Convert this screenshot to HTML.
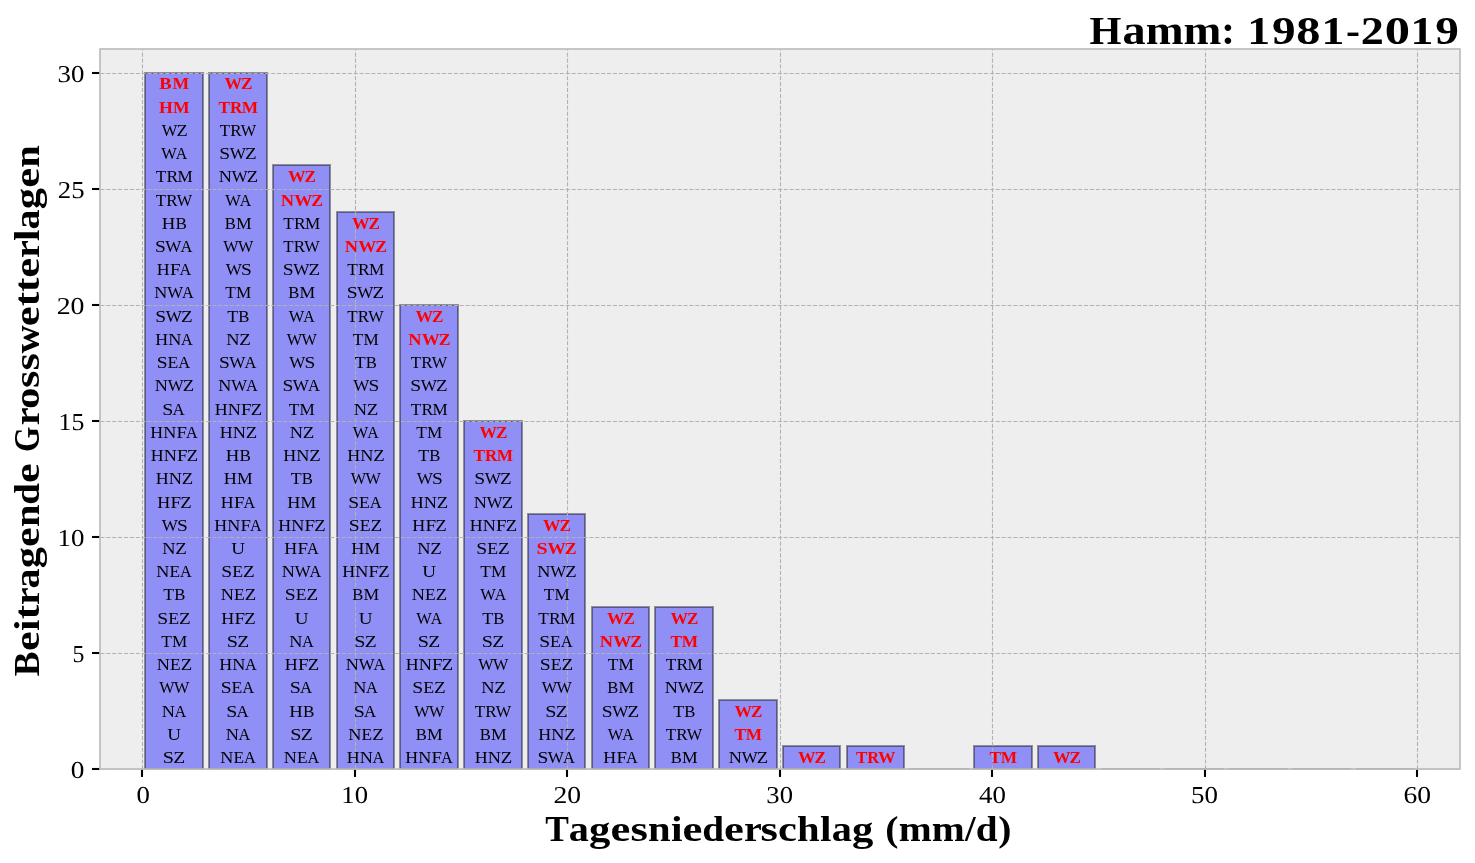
<!DOCTYPE html>
<html lang="de"><head><meta charset="utf-8"><title>Hamm: 1981-2019</title>
<style>
html,body{margin:0;padding:0;background:#fff;}
body{width:1475px;height:863px;overflow:hidden;}
svg{display:block;will-change:transform;}
text{font-family:"Liberation Serif",serif;font-kerning:none;font-variant-ligatures:none;}
.lb{font-size:16.8px;fill:#000;}
.lr{font-size:16.6px;fill:#ff0000;font-weight:bold;}
.tk{font-size:24.3px;fill:#000;}
.ax{font-weight:bold;fill:#000;}
</style></head><body>
<svg width="1475" height="863" viewBox="0 0 1475 863">
<rect x="0" y="0" width="1475" height="863" fill="#ffffff"/>
<rect x="99.70" y="49.30" width="1360.00" height="720.15" fill="#eeeeee"/>
<defs><clipPath id="axclip"><rect x="99.70" y="49.30" width="1360.00" height="720.15"/></clipPath></defs>
<g clip-path="url(#axclip)" fill="rgba(0,0,255,0.4)" stroke="rgba(0,0,0,0.4)" stroke-width="2" stroke-linejoin="miter">
<rect x="145" y="73" width="58" height="696"/>
<rect x="209" y="73" width="58" height="696"/>
<rect x="273" y="165" width="57" height="604"/>
<rect x="337" y="212" width="57" height="557"/>
<rect x="400" y="305" width="58" height="464"/>
<rect x="464" y="421" width="58" height="348"/>
<rect x="528" y="514" width="57" height="255"/>
<rect x="592" y="607" width="57" height="162"/>
<rect x="655" y="607" width="58" height="162"/>
<rect x="719" y="700" width="58" height="69"/>
<rect x="783" y="746" width="57" height="23"/>
<rect x="847" y="746" width="57" height="23"/>
<line x1="909" y1="769" x2="969" y2="769"/>
<rect x="974" y="746" width="58" height="23"/>
<rect x="1038" y="746" width="57" height="23"/>
<line x1="1101" y1="769" x2="1160" y2="769"/>
<line x1="1164" y1="769" x2="1224" y2="769"/>
<line x1="1228" y1="769" x2="1288" y2="769"/>
<line x1="1292" y1="769" x2="1351" y2="769"/>
<line x1="1356" y1="769" x2="1415" y2="769"/>
</g>
<g clip-path="url(#axclip)" stroke="#b2b2b2" stroke-width="1.11" stroke-dasharray="4.11 1.78" fill="none">
<line x1="142.5" y1="769.45" x2="142.5" y2="49.30"/>
<line x1="355.5" y1="769.45" x2="355.5" y2="49.30"/>
<line x1="567.5" y1="769.45" x2="567.5" y2="49.30"/>
<line x1="780.5" y1="769.45" x2="780.5" y2="49.30"/>
<line x1="992.5" y1="769.45" x2="992.5" y2="49.30"/>
<line x1="1205.5" y1="769.45" x2="1205.5" y2="49.30"/>
<line x1="1417.5" y1="769.45" x2="1417.5" y2="49.30"/>
<line x1="100.40" y1="769.5" x2="1459.70" y2="769.5"/>
<line x1="100.40" y1="653.5" x2="1459.70" y2="653.5"/>
<line x1="100.40" y1="537.5" x2="1459.70" y2="537.5"/>
<line x1="100.40" y1="421.5" x2="1459.70" y2="421.5"/>
<line x1="100.40" y1="305.5" x2="1459.70" y2="305.5"/>
<line x1="100.40" y1="189.5" x2="1459.70" y2="189.5"/>
<line x1="100.40" y1="73.5" x2="1459.70" y2="73.5"/>
</g>
<g stroke="#000000" stroke-width="2.08" fill="none">
<line x1="142" y1="769.45" x2="142" y2="776.95"/>
<line x1="355" y1="769.45" x2="355" y2="776.95"/>
<line x1="567" y1="769.45" x2="567" y2="776.95"/>
<line x1="780" y1="769.45" x2="780" y2="776.95"/>
<line x1="992" y1="769.45" x2="992" y2="776.95"/>
<line x1="1205" y1="769.45" x2="1205" y2="776.95"/>
<line x1="1417" y1="769.45" x2="1417" y2="776.95"/>
<line x1="99.70" y1="769" x2="92.00" y2="769"/>
<line x1="99.70" y1="653" x2="92.00" y2="653"/>
<line x1="99.70" y1="537" x2="92.00" y2="537"/>
<line x1="99.70" y1="421" x2="92.00" y2="421"/>
<line x1="99.70" y1="305" x2="92.00" y2="305"/>
<line x1="99.70" y1="189" x2="92.00" y2="189"/>
<line x1="99.70" y1="73" x2="92.00" y2="73"/>
</g>
<rect x="100" y="49" width="1360" height="720" fill="none" stroke="#bcbcbc" stroke-width="1.67"/>
<g>
<text class="lr" y="89"><tspan x="159.39" textLength="12.39" lengthAdjust="spacingAndGlyphs">B</tspan><tspan x="172.56" textLength="16.65" lengthAdjust="spacingAndGlyphs">M</tspan></text>
<text class="lr" y="113"><tspan x="158.90" textLength="13.86" lengthAdjust="spacingAndGlyphs">H</tspan><tspan x="173.07" textLength="16.64" lengthAdjust="spacingAndGlyphs">M</tspan></text>
<text class="lb" y="136"><tspan x="161.68" textLength="15.67" lengthAdjust="spacingAndGlyphs">W</tspan><tspan x="176.47" textLength="11.24" lengthAdjust="spacingAndGlyphs">Z</tspan></text>
<text class="lb" y="159"><tspan x="161.18" textLength="15.57" lengthAdjust="spacingAndGlyphs">W</tspan><tspan x="175.82" textLength="11.50" lengthAdjust="spacingAndGlyphs">A</tspan></text>
<text class="lb" y="182"><tspan x="155.89" textLength="10.57" lengthAdjust="spacingAndGlyphs">T</tspan><tspan x="166.47" textLength="11.64" lengthAdjust="spacingAndGlyphs">R</tspan><tspan x="177.49" textLength="15.21" lengthAdjust="spacingAndGlyphs">M</tspan></text>
<text class="lb" y="206"><tspan x="155.89" textLength="10.34" lengthAdjust="spacingAndGlyphs">T</tspan><tspan x="166.25" textLength="11.39" lengthAdjust="spacingAndGlyphs">R</tspan><tspan x="176.82" textLength="15.42" lengthAdjust="spacingAndGlyphs">W</tspan></text>
<text class="lb" y="229"><tspan x="161.66" textLength="13.53" lengthAdjust="spacingAndGlyphs">H</tspan><tspan x="175.60" textLength="11.44" lengthAdjust="spacingAndGlyphs">B</tspan></text>
<text class="lb" y="252"><tspan x="154.90" textLength="10.83" lengthAdjust="spacingAndGlyphs">S</tspan><tspan x="165.25" textLength="16.13" lengthAdjust="spacingAndGlyphs">W</tspan><tspan x="180.41" textLength="11.91" lengthAdjust="spacingAndGlyphs">A</tspan></text>
<text class="lb" y="275"><tspan x="156.69" textLength="12.90" lengthAdjust="spacingAndGlyphs">H</tspan><tspan x="169.91" textLength="10.52" lengthAdjust="spacingAndGlyphs">F</tspan><tspan x="179.54" textLength="11.77" lengthAdjust="spacingAndGlyphs">A</tspan></text>
<text class="lb" y="298"><tspan x="154.18" textLength="13.06" lengthAdjust="spacingAndGlyphs">N</tspan><tspan x="167.19" textLength="15.86" lengthAdjust="spacingAndGlyphs">W</tspan><tspan x="182.10" textLength="11.72" lengthAdjust="spacingAndGlyphs">A</tspan></text>
<text class="lb" y="322"><tspan x="155.39" textLength="10.89" lengthAdjust="spacingAndGlyphs">S</tspan><tspan x="165.80" textLength="16.22" lengthAdjust="spacingAndGlyphs">W</tspan><tspan x="181.11" textLength="11.64" lengthAdjust="spacingAndGlyphs">Z</tspan></text>
<text class="lb" y="345"><tspan x="155.19" textLength="12.89" lengthAdjust="spacingAndGlyphs">H</tspan><tspan x="168.31" textLength="13.11" lengthAdjust="spacingAndGlyphs">N</tspan><tspan x="181.06" textLength="11.76" lengthAdjust="spacingAndGlyphs">A</tspan></text>
<text class="lb" y="368"><tspan x="156.89" textLength="10.87" lengthAdjust="spacingAndGlyphs">S</tspan><tspan x="167.59" textLength="10.80" lengthAdjust="spacingAndGlyphs">E</tspan><tspan x="178.36" textLength="11.96" lengthAdjust="spacingAndGlyphs">A</tspan></text>
<text class="lb" y="391"><tspan x="154.68" textLength="13.13" lengthAdjust="spacingAndGlyphs">N</tspan><tspan x="167.75" textLength="15.94" lengthAdjust="spacingAndGlyphs">W</tspan><tspan x="182.79" textLength="11.43" lengthAdjust="spacingAndGlyphs">Z</tspan></text>
<text class="lb" y="415"><tspan x="162.37" textLength="11.08" lengthAdjust="spacingAndGlyphs">S</tspan><tspan x="172.64" textLength="12.18" lengthAdjust="spacingAndGlyphs">A</tspan></text>
<text class="lb" y="438"><tspan x="150.20" textLength="12.83" lengthAdjust="spacingAndGlyphs">H</tspan><tspan x="163.27" textLength="13.05" lengthAdjust="spacingAndGlyphs">N</tspan><tspan x="176.53" textLength="10.47" lengthAdjust="spacingAndGlyphs">F</tspan><tspan x="186.10" textLength="11.71" lengthAdjust="spacingAndGlyphs">A</tspan></text>
<text class="lb" y="461"><tspan x="150.69" textLength="12.89" lengthAdjust="spacingAndGlyphs">H</tspan><tspan x="163.82" textLength="13.11" lengthAdjust="spacingAndGlyphs">N</tspan><tspan x="177.13" textLength="10.51" lengthAdjust="spacingAndGlyphs">F</tspan><tspan x="186.80" textLength="11.42" lengthAdjust="spacingAndGlyphs">Z</tspan></text>
<text class="lb" y="484"><tspan x="155.68" textLength="12.95" lengthAdjust="spacingAndGlyphs">H</tspan><tspan x="168.88" textLength="13.18" lengthAdjust="spacingAndGlyphs">N</tspan><tspan x="181.75" textLength="11.48" lengthAdjust="spacingAndGlyphs">Z</tspan></text>
<text class="lb" y="508"><tspan x="157.18" textLength="12.98" lengthAdjust="spacingAndGlyphs">H</tspan><tspan x="170.48" textLength="10.59" lengthAdjust="spacingAndGlyphs">F</tspan><tspan x="180.23" textLength="11.50" lengthAdjust="spacingAndGlyphs">Z</tspan></text>
<text class="lb" y="531"><tspan x="161.68" textLength="16.10" lengthAdjust="spacingAndGlyphs">W</tspan><tspan x="177.09" textLength="10.81" lengthAdjust="spacingAndGlyphs">S</tspan></text>
<text class="lb" y="554"><tspan x="162.17" textLength="13.29" lengthAdjust="spacingAndGlyphs">N</tspan><tspan x="175.15" textLength="11.58" lengthAdjust="spacingAndGlyphs">Z</tspan></text>
<text class="lb" y="577"><tspan x="156.18" textLength="13.09" lengthAdjust="spacingAndGlyphs">N</tspan><tspan x="169.51" textLength="10.60" lengthAdjust="spacingAndGlyphs">E</tspan><tspan x="180.08" textLength="11.74" lengthAdjust="spacingAndGlyphs">A</tspan></text>
<text class="lb" y="600"><tspan x="163.38" textLength="10.93" lengthAdjust="spacingAndGlyphs">T</tspan><tspan x="174.37" textLength="11.15" lengthAdjust="spacingAndGlyphs">B</tspan></text>
<text class="lb" y="624"><tspan x="157.38" textLength="10.94" lengthAdjust="spacingAndGlyphs">S</tspan><tspan x="168.15" textLength="10.87" lengthAdjust="spacingAndGlyphs">E</tspan><tspan x="179.05" textLength="11.69" lengthAdjust="spacingAndGlyphs">Z</tspan></text>
<text class="lb" y="647"><tspan x="161.39" textLength="10.61" lengthAdjust="spacingAndGlyphs">T</tspan><tspan x="171.94" textLength="15.27" lengthAdjust="spacingAndGlyphs">M</tspan></text>
<text class="lb" y="670"><tspan x="156.68" textLength="13.16" lengthAdjust="spacingAndGlyphs">N</tspan><tspan x="170.08" textLength="10.66" lengthAdjust="spacingAndGlyphs">E</tspan><tspan x="180.76" textLength="11.46" lengthAdjust="spacingAndGlyphs">Z</tspan></text>
<text class="lb" y="693"><tspan x="159.18" textLength="15.33" lengthAdjust="spacingAndGlyphs">W</tspan><tspan x="173.90" textLength="15.33" lengthAdjust="spacingAndGlyphs">W</tspan></text>
<text class="lb" y="717"><tspan x="161.67" textLength="13.18" lengthAdjust="spacingAndGlyphs">N</tspan><tspan x="174.50" textLength="11.82" lengthAdjust="spacingAndGlyphs">A</tspan></text>
<text class="lb" y="740"><tspan x="167.30" textLength="13.80" lengthAdjust="spacingAndGlyphs">U</tspan></text>
<text class="lb" y="763"><tspan x="162.85" textLength="11.21" lengthAdjust="spacingAndGlyphs">S</tspan><tspan x="173.30" textLength="11.97" lengthAdjust="spacingAndGlyphs">Z</tspan></text>
<text class="lr" y="89"><tspan x="224.45" textLength="17.53" lengthAdjust="spacingAndGlyphs">W</tspan><tspan x="241.11" textLength="11.46" lengthAdjust="spacingAndGlyphs">Z</tspan></text>
<text class="lr" y="113"><tspan x="218.43" textLength="11.57" lengthAdjust="spacingAndGlyphs">T</tspan><tspan x="229.95" textLength="12.20" lengthAdjust="spacingAndGlyphs">R</tspan><tspan x="241.86" textLength="16.34" lengthAdjust="spacingAndGlyphs">M</tspan></text>
<text class="lb" y="136"><tspan x="219.89" textLength="10.34" lengthAdjust="spacingAndGlyphs">T</tspan><tspan x="230.25" textLength="11.39" lengthAdjust="spacingAndGlyphs">R</tspan><tspan x="240.82" textLength="15.42" lengthAdjust="spacingAndGlyphs">W</tspan></text>
<text class="lb" y="159"><tspan x="219.39" textLength="10.89" lengthAdjust="spacingAndGlyphs">S</tspan><tspan x="229.80" textLength="16.22" lengthAdjust="spacingAndGlyphs">W</tspan><tspan x="245.11" textLength="11.64" lengthAdjust="spacingAndGlyphs">Z</tspan></text>
<text class="lb" y="182"><tspan x="218.68" textLength="13.13" lengthAdjust="spacingAndGlyphs">N</tspan><tspan x="231.75" textLength="15.94" lengthAdjust="spacingAndGlyphs">W</tspan><tspan x="246.79" textLength="11.43" lengthAdjust="spacingAndGlyphs">Z</tspan></text>
<text class="lb" y="206"><tspan x="225.18" textLength="15.57" lengthAdjust="spacingAndGlyphs">W</tspan><tspan x="239.82" textLength="11.50" lengthAdjust="spacingAndGlyphs">A</tspan></text>
<text class="lb" y="229"><tspan x="224.72" textLength="11.11" lengthAdjust="spacingAndGlyphs">B</tspan><tspan x="236.03" textLength="15.68" lengthAdjust="spacingAndGlyphs">M</tspan></text>
<text class="lb" y="252"><tspan x="223.18" textLength="15.33" lengthAdjust="spacingAndGlyphs">W</tspan><tspan x="237.90" textLength="15.33" lengthAdjust="spacingAndGlyphs">W</tspan></text>
<text class="lb" y="275"><tspan x="225.68" textLength="16.10" lengthAdjust="spacingAndGlyphs">W</tspan><tspan x="241.09" textLength="10.81" lengthAdjust="spacingAndGlyphs">S</tspan></text>
<text class="lb" y="298"><tspan x="225.39" textLength="10.61" lengthAdjust="spacingAndGlyphs">T</tspan><tspan x="235.94" textLength="15.27" lengthAdjust="spacingAndGlyphs">M</tspan></text>
<text class="lb" y="322"><tspan x="227.38" textLength="10.93" lengthAdjust="spacingAndGlyphs">T</tspan><tspan x="238.37" textLength="11.15" lengthAdjust="spacingAndGlyphs">B</tspan></text>
<text class="lb" y="345"><tspan x="226.17" textLength="13.29" lengthAdjust="spacingAndGlyphs">N</tspan><tspan x="239.15" textLength="11.58" lengthAdjust="spacingAndGlyphs">Z</tspan></text>
<text class="lb" y="368"><tspan x="218.90" textLength="10.83" lengthAdjust="spacingAndGlyphs">S</tspan><tspan x="229.25" textLength="16.13" lengthAdjust="spacingAndGlyphs">W</tspan><tspan x="244.41" textLength="11.91" lengthAdjust="spacingAndGlyphs">A</tspan></text>
<text class="lb" y="391"><tspan x="218.18" textLength="13.06" lengthAdjust="spacingAndGlyphs">N</tspan><tspan x="231.19" textLength="15.86" lengthAdjust="spacingAndGlyphs">W</tspan><tspan x="246.10" textLength="11.72" lengthAdjust="spacingAndGlyphs">A</tspan></text>
<text class="lb" y="415"><tspan x="214.69" textLength="12.89" lengthAdjust="spacingAndGlyphs">H</tspan><tspan x="227.82" textLength="13.11" lengthAdjust="spacingAndGlyphs">N</tspan><tspan x="241.13" textLength="10.51" lengthAdjust="spacingAndGlyphs">F</tspan><tspan x="250.80" textLength="11.42" lengthAdjust="spacingAndGlyphs">Z</tspan></text>
<text class="lb" y="438"><tspan x="219.68" textLength="12.95" lengthAdjust="spacingAndGlyphs">H</tspan><tspan x="232.88" textLength="13.18" lengthAdjust="spacingAndGlyphs">N</tspan><tspan x="245.75" textLength="11.48" lengthAdjust="spacingAndGlyphs">Z</tspan></text>
<text class="lb" y="461"><tspan x="225.66" textLength="13.53" lengthAdjust="spacingAndGlyphs">H</tspan><tspan x="239.60" textLength="11.44" lengthAdjust="spacingAndGlyphs">B</tspan></text>
<text class="lb" y="484"><tspan x="223.68" textLength="13.11" lengthAdjust="spacingAndGlyphs">H</tspan><tspan x="237.08" textLength="15.64" lengthAdjust="spacingAndGlyphs">M</tspan></text>
<text class="lb" y="508"><tspan x="220.69" textLength="12.90" lengthAdjust="spacingAndGlyphs">H</tspan><tspan x="233.91" textLength="10.52" lengthAdjust="spacingAndGlyphs">F</tspan><tspan x="243.54" textLength="11.77" lengthAdjust="spacingAndGlyphs">A</tspan></text>
<text class="lb" y="531"><tspan x="214.20" textLength="12.83" lengthAdjust="spacingAndGlyphs">H</tspan><tspan x="227.27" textLength="13.05" lengthAdjust="spacingAndGlyphs">N</tspan><tspan x="240.53" textLength="10.47" lengthAdjust="spacingAndGlyphs">F</tspan><tspan x="250.10" textLength="11.71" lengthAdjust="spacingAndGlyphs">A</tspan></text>
<text class="lb" y="554"><tspan x="231.30" textLength="13.80" lengthAdjust="spacingAndGlyphs">U</tspan></text>
<text class="lb" y="577"><tspan x="221.38" textLength="10.94" lengthAdjust="spacingAndGlyphs">S</tspan><tspan x="232.15" textLength="10.87" lengthAdjust="spacingAndGlyphs">E</tspan><tspan x="243.05" textLength="11.69" lengthAdjust="spacingAndGlyphs">Z</tspan></text>
<text class="lb" y="600"><tspan x="220.68" textLength="13.16" lengthAdjust="spacingAndGlyphs">N</tspan><tspan x="234.08" textLength="10.66" lengthAdjust="spacingAndGlyphs">E</tspan><tspan x="244.76" textLength="11.46" lengthAdjust="spacingAndGlyphs">Z</tspan></text>
<text class="lb" y="624"><tspan x="221.18" textLength="12.98" lengthAdjust="spacingAndGlyphs">H</tspan><tspan x="234.48" textLength="10.59" lengthAdjust="spacingAndGlyphs">F</tspan><tspan x="244.23" textLength="11.50" lengthAdjust="spacingAndGlyphs">Z</tspan></text>
<text class="lb" y="647"><tspan x="226.85" textLength="11.21" lengthAdjust="spacingAndGlyphs">S</tspan><tspan x="237.30" textLength="11.97" lengthAdjust="spacingAndGlyphs">Z</tspan></text>
<text class="lb" y="670"><tspan x="219.19" textLength="12.89" lengthAdjust="spacingAndGlyphs">H</tspan><tspan x="232.31" textLength="13.11" lengthAdjust="spacingAndGlyphs">N</tspan><tspan x="245.06" textLength="11.76" lengthAdjust="spacingAndGlyphs">A</tspan></text>
<text class="lb" y="693"><tspan x="220.89" textLength="10.87" lengthAdjust="spacingAndGlyphs">S</tspan><tspan x="231.59" textLength="10.80" lengthAdjust="spacingAndGlyphs">E</tspan><tspan x="242.36" textLength="11.96" lengthAdjust="spacingAndGlyphs">A</tspan></text>
<text class="lb" y="717"><tspan x="226.37" textLength="11.08" lengthAdjust="spacingAndGlyphs">S</tspan><tspan x="236.64" textLength="12.18" lengthAdjust="spacingAndGlyphs">A</tspan></text>
<text class="lb" y="740"><tspan x="225.67" textLength="13.18" lengthAdjust="spacingAndGlyphs">N</tspan><tspan x="238.50" textLength="11.82" lengthAdjust="spacingAndGlyphs">A</tspan></text>
<text class="lb" y="763"><tspan x="220.18" textLength="13.09" lengthAdjust="spacingAndGlyphs">N</tspan><tspan x="233.51" textLength="10.60" lengthAdjust="spacingAndGlyphs">E</tspan><tspan x="244.08" textLength="11.74" lengthAdjust="spacingAndGlyphs">A</tspan></text>
<text class="lr" y="182"><tspan x="287.95" textLength="17.53" lengthAdjust="spacingAndGlyphs">W</tspan><tspan x="304.61" textLength="11.46" lengthAdjust="spacingAndGlyphs">Z</tspan></text>
<text class="lr" y="206"><tspan x="280.85" textLength="13.30" lengthAdjust="spacingAndGlyphs">N</tspan><tspan x="294.16" textLength="18.04" lengthAdjust="spacingAndGlyphs">W</tspan><tspan x="311.30" textLength="11.80" lengthAdjust="spacingAndGlyphs">Z</tspan></text>
<text class="lb" y="229"><tspan x="283.39" textLength="10.57" lengthAdjust="spacingAndGlyphs">T</tspan><tspan x="293.97" textLength="11.64" lengthAdjust="spacingAndGlyphs">R</tspan><tspan x="304.99" textLength="15.21" lengthAdjust="spacingAndGlyphs">M</tspan></text>
<text class="lb" y="252"><tspan x="283.39" textLength="10.34" lengthAdjust="spacingAndGlyphs">T</tspan><tspan x="293.75" textLength="11.39" lengthAdjust="spacingAndGlyphs">R</tspan><tspan x="304.32" textLength="15.42" lengthAdjust="spacingAndGlyphs">W</tspan></text>
<text class="lb" y="275"><tspan x="282.89" textLength="10.89" lengthAdjust="spacingAndGlyphs">S</tspan><tspan x="293.30" textLength="16.22" lengthAdjust="spacingAndGlyphs">W</tspan><tspan x="308.61" textLength="11.64" lengthAdjust="spacingAndGlyphs">Z</tspan></text>
<text class="lb" y="298"><tspan x="288.22" textLength="11.11" lengthAdjust="spacingAndGlyphs">B</tspan><tspan x="299.53" textLength="15.68" lengthAdjust="spacingAndGlyphs">M</tspan></text>
<text class="lb" y="322"><tspan x="288.68" textLength="15.57" lengthAdjust="spacingAndGlyphs">W</tspan><tspan x="303.32" textLength="11.50" lengthAdjust="spacingAndGlyphs">A</tspan></text>
<text class="lb" y="345"><tspan x="286.68" textLength="15.33" lengthAdjust="spacingAndGlyphs">W</tspan><tspan x="301.40" textLength="15.33" lengthAdjust="spacingAndGlyphs">W</tspan></text>
<text class="lb" y="368"><tspan x="289.18" textLength="16.10" lengthAdjust="spacingAndGlyphs">W</tspan><tspan x="304.59" textLength="10.81" lengthAdjust="spacingAndGlyphs">S</tspan></text>
<text class="lb" y="391"><tspan x="282.40" textLength="10.83" lengthAdjust="spacingAndGlyphs">S</tspan><tspan x="292.75" textLength="16.13" lengthAdjust="spacingAndGlyphs">W</tspan><tspan x="307.91" textLength="11.91" lengthAdjust="spacingAndGlyphs">A</tspan></text>
<text class="lb" y="415"><tspan x="288.89" textLength="10.61" lengthAdjust="spacingAndGlyphs">T</tspan><tspan x="299.44" textLength="15.27" lengthAdjust="spacingAndGlyphs">M</tspan></text>
<text class="lb" y="438"><tspan x="289.67" textLength="13.29" lengthAdjust="spacingAndGlyphs">N</tspan><tspan x="302.65" textLength="11.58" lengthAdjust="spacingAndGlyphs">Z</tspan></text>
<text class="lb" y="461"><tspan x="283.18" textLength="12.95" lengthAdjust="spacingAndGlyphs">H</tspan><tspan x="296.38" textLength="13.18" lengthAdjust="spacingAndGlyphs">N</tspan><tspan x="309.25" textLength="11.48" lengthAdjust="spacingAndGlyphs">Z</tspan></text>
<text class="lb" y="484"><tspan x="290.88" textLength="10.93" lengthAdjust="spacingAndGlyphs">T</tspan><tspan x="301.87" textLength="11.15" lengthAdjust="spacingAndGlyphs">B</tspan></text>
<text class="lb" y="508"><tspan x="287.18" textLength="13.11" lengthAdjust="spacingAndGlyphs">H</tspan><tspan x="300.58" textLength="15.64" lengthAdjust="spacingAndGlyphs">M</tspan></text>
<text class="lb" y="531"><tspan x="278.19" textLength="12.89" lengthAdjust="spacingAndGlyphs">H</tspan><tspan x="291.32" textLength="13.11" lengthAdjust="spacingAndGlyphs">N</tspan><tspan x="304.63" textLength="10.51" lengthAdjust="spacingAndGlyphs">F</tspan><tspan x="314.30" textLength="11.42" lengthAdjust="spacingAndGlyphs">Z</tspan></text>
<text class="lb" y="554"><tspan x="284.19" textLength="12.90" lengthAdjust="spacingAndGlyphs">H</tspan><tspan x="297.41" textLength="10.52" lengthAdjust="spacingAndGlyphs">F</tspan><tspan x="307.04" textLength="11.77" lengthAdjust="spacingAndGlyphs">A</tspan></text>
<text class="lb" y="577"><tspan x="281.68" textLength="13.06" lengthAdjust="spacingAndGlyphs">N</tspan><tspan x="294.69" textLength="15.86" lengthAdjust="spacingAndGlyphs">W</tspan><tspan x="309.60" textLength="11.72" lengthAdjust="spacingAndGlyphs">A</tspan></text>
<text class="lb" y="600"><tspan x="284.88" textLength="10.94" lengthAdjust="spacingAndGlyphs">S</tspan><tspan x="295.65" textLength="10.87" lengthAdjust="spacingAndGlyphs">E</tspan><tspan x="306.55" textLength="11.69" lengthAdjust="spacingAndGlyphs">Z</tspan></text>
<text class="lb" y="624"><tspan x="294.80" textLength="13.80" lengthAdjust="spacingAndGlyphs">U</tspan></text>
<text class="lb" y="647"><tspan x="289.17" textLength="13.18" lengthAdjust="spacingAndGlyphs">N</tspan><tspan x="302.00" textLength="11.82" lengthAdjust="spacingAndGlyphs">A</tspan></text>
<text class="lb" y="670"><tspan x="284.68" textLength="12.98" lengthAdjust="spacingAndGlyphs">H</tspan><tspan x="297.98" textLength="10.59" lengthAdjust="spacingAndGlyphs">F</tspan><tspan x="307.73" textLength="11.50" lengthAdjust="spacingAndGlyphs">Z</tspan></text>
<text class="lb" y="693"><tspan x="289.87" textLength="11.08" lengthAdjust="spacingAndGlyphs">S</tspan><tspan x="300.14" textLength="12.18" lengthAdjust="spacingAndGlyphs">A</tspan></text>
<text class="lb" y="717"><tspan x="289.16" textLength="13.53" lengthAdjust="spacingAndGlyphs">H</tspan><tspan x="303.10" textLength="11.44" lengthAdjust="spacingAndGlyphs">B</tspan></text>
<text class="lb" y="740"><tspan x="290.35" textLength="11.21" lengthAdjust="spacingAndGlyphs">S</tspan><tspan x="300.80" textLength="11.97" lengthAdjust="spacingAndGlyphs">Z</tspan></text>
<text class="lb" y="763"><tspan x="283.68" textLength="13.09" lengthAdjust="spacingAndGlyphs">N</tspan><tspan x="297.01" textLength="10.60" lengthAdjust="spacingAndGlyphs">E</tspan><tspan x="307.58" textLength="11.74" lengthAdjust="spacingAndGlyphs">A</tspan></text>
<text class="lr" y="229"><tspan x="351.95" textLength="17.53" lengthAdjust="spacingAndGlyphs">W</tspan><tspan x="368.61" textLength="11.46" lengthAdjust="spacingAndGlyphs">Z</tspan></text>
<text class="lr" y="252"><tspan x="344.85" textLength="13.30" lengthAdjust="spacingAndGlyphs">N</tspan><tspan x="358.16" textLength="18.04" lengthAdjust="spacingAndGlyphs">W</tspan><tspan x="375.30" textLength="11.80" lengthAdjust="spacingAndGlyphs">Z</tspan></text>
<text class="lb" y="275"><tspan x="347.39" textLength="10.57" lengthAdjust="spacingAndGlyphs">T</tspan><tspan x="357.97" textLength="11.64" lengthAdjust="spacingAndGlyphs">R</tspan><tspan x="368.99" textLength="15.21" lengthAdjust="spacingAndGlyphs">M</tspan></text>
<text class="lb" y="298"><tspan x="346.89" textLength="10.89" lengthAdjust="spacingAndGlyphs">S</tspan><tspan x="357.30" textLength="16.22" lengthAdjust="spacingAndGlyphs">W</tspan><tspan x="372.61" textLength="11.64" lengthAdjust="spacingAndGlyphs">Z</tspan></text>
<text class="lb" y="322"><tspan x="347.39" textLength="10.34" lengthAdjust="spacingAndGlyphs">T</tspan><tspan x="357.75" textLength="11.39" lengthAdjust="spacingAndGlyphs">R</tspan><tspan x="368.32" textLength="15.42" lengthAdjust="spacingAndGlyphs">W</tspan></text>
<text class="lb" y="345"><tspan x="352.89" textLength="10.61" lengthAdjust="spacingAndGlyphs">T</tspan><tspan x="363.44" textLength="15.27" lengthAdjust="spacingAndGlyphs">M</tspan></text>
<text class="lb" y="368"><tspan x="354.88" textLength="10.93" lengthAdjust="spacingAndGlyphs">T</tspan><tspan x="365.87" textLength="11.15" lengthAdjust="spacingAndGlyphs">B</tspan></text>
<text class="lb" y="391"><tspan x="353.18" textLength="16.10" lengthAdjust="spacingAndGlyphs">W</tspan><tspan x="368.59" textLength="10.81" lengthAdjust="spacingAndGlyphs">S</tspan></text>
<text class="lb" y="415"><tspan x="353.67" textLength="13.29" lengthAdjust="spacingAndGlyphs">N</tspan><tspan x="366.65" textLength="11.58" lengthAdjust="spacingAndGlyphs">Z</tspan></text>
<text class="lb" y="438"><tspan x="352.68" textLength="15.57" lengthAdjust="spacingAndGlyphs">W</tspan><tspan x="367.32" textLength="11.50" lengthAdjust="spacingAndGlyphs">A</tspan></text>
<text class="lb" y="461"><tspan x="347.18" textLength="12.95" lengthAdjust="spacingAndGlyphs">H</tspan><tspan x="360.38" textLength="13.18" lengthAdjust="spacingAndGlyphs">N</tspan><tspan x="373.25" textLength="11.48" lengthAdjust="spacingAndGlyphs">Z</tspan></text>
<text class="lb" y="484"><tspan x="350.68" textLength="15.33" lengthAdjust="spacingAndGlyphs">W</tspan><tspan x="365.40" textLength="15.33" lengthAdjust="spacingAndGlyphs">W</tspan></text>
<text class="lb" y="508"><tspan x="348.39" textLength="10.87" lengthAdjust="spacingAndGlyphs">S</tspan><tspan x="359.09" textLength="10.80" lengthAdjust="spacingAndGlyphs">E</tspan><tspan x="369.86" textLength="11.96" lengthAdjust="spacingAndGlyphs">A</tspan></text>
<text class="lb" y="531"><tspan x="348.88" textLength="10.94" lengthAdjust="spacingAndGlyphs">S</tspan><tspan x="359.65" textLength="10.87" lengthAdjust="spacingAndGlyphs">E</tspan><tspan x="370.55" textLength="11.69" lengthAdjust="spacingAndGlyphs">Z</tspan></text>
<text class="lb" y="554"><tspan x="351.18" textLength="13.11" lengthAdjust="spacingAndGlyphs">H</tspan><tspan x="364.58" textLength="15.64" lengthAdjust="spacingAndGlyphs">M</tspan></text>
<text class="lb" y="577"><tspan x="342.19" textLength="12.89" lengthAdjust="spacingAndGlyphs">H</tspan><tspan x="355.32" textLength="13.11" lengthAdjust="spacingAndGlyphs">N</tspan><tspan x="368.63" textLength="10.51" lengthAdjust="spacingAndGlyphs">F</tspan><tspan x="378.30" textLength="11.42" lengthAdjust="spacingAndGlyphs">Z</tspan></text>
<text class="lb" y="600"><tspan x="352.22" textLength="11.11" lengthAdjust="spacingAndGlyphs">B</tspan><tspan x="363.53" textLength="15.68" lengthAdjust="spacingAndGlyphs">M</tspan></text>
<text class="lb" y="624"><tspan x="358.80" textLength="13.80" lengthAdjust="spacingAndGlyphs">U</tspan></text>
<text class="lb" y="647"><tspan x="354.35" textLength="11.21" lengthAdjust="spacingAndGlyphs">S</tspan><tspan x="364.80" textLength="11.97" lengthAdjust="spacingAndGlyphs">Z</tspan></text>
<text class="lb" y="670"><tspan x="345.68" textLength="13.06" lengthAdjust="spacingAndGlyphs">N</tspan><tspan x="358.69" textLength="15.86" lengthAdjust="spacingAndGlyphs">W</tspan><tspan x="373.60" textLength="11.72" lengthAdjust="spacingAndGlyphs">A</tspan></text>
<text class="lb" y="693"><tspan x="353.17" textLength="13.18" lengthAdjust="spacingAndGlyphs">N</tspan><tspan x="366.00" textLength="11.82" lengthAdjust="spacingAndGlyphs">A</tspan></text>
<text class="lb" y="717"><tspan x="353.87" textLength="11.08" lengthAdjust="spacingAndGlyphs">S</tspan><tspan x="364.14" textLength="12.18" lengthAdjust="spacingAndGlyphs">A</tspan></text>
<text class="lb" y="740"><tspan x="348.18" textLength="13.16" lengthAdjust="spacingAndGlyphs">N</tspan><tspan x="361.58" textLength="10.66" lengthAdjust="spacingAndGlyphs">E</tspan><tspan x="372.26" textLength="11.46" lengthAdjust="spacingAndGlyphs">Z</tspan></text>
<text class="lb" y="763"><tspan x="346.69" textLength="12.89" lengthAdjust="spacingAndGlyphs">H</tspan><tspan x="359.81" textLength="13.11" lengthAdjust="spacingAndGlyphs">N</tspan><tspan x="372.56" textLength="11.76" lengthAdjust="spacingAndGlyphs">A</tspan></text>
<text class="lr" y="322"><tspan x="415.45" textLength="17.53" lengthAdjust="spacingAndGlyphs">W</tspan><tspan x="432.11" textLength="11.46" lengthAdjust="spacingAndGlyphs">Z</tspan></text>
<text class="lr" y="345"><tspan x="408.35" textLength="13.30" lengthAdjust="spacingAndGlyphs">N</tspan><tspan x="421.66" textLength="18.04" lengthAdjust="spacingAndGlyphs">W</tspan><tspan x="438.80" textLength="11.80" lengthAdjust="spacingAndGlyphs">Z</tspan></text>
<text class="lb" y="368"><tspan x="410.89" textLength="10.34" lengthAdjust="spacingAndGlyphs">T</tspan><tspan x="421.25" textLength="11.39" lengthAdjust="spacingAndGlyphs">R</tspan><tspan x="431.82" textLength="15.42" lengthAdjust="spacingAndGlyphs">W</tspan></text>
<text class="lb" y="391"><tspan x="410.39" textLength="10.89" lengthAdjust="spacingAndGlyphs">S</tspan><tspan x="420.80" textLength="16.22" lengthAdjust="spacingAndGlyphs">W</tspan><tspan x="436.11" textLength="11.64" lengthAdjust="spacingAndGlyphs">Z</tspan></text>
<text class="lb" y="415"><tspan x="410.89" textLength="10.57" lengthAdjust="spacingAndGlyphs">T</tspan><tspan x="421.47" textLength="11.64" lengthAdjust="spacingAndGlyphs">R</tspan><tspan x="432.49" textLength="15.21" lengthAdjust="spacingAndGlyphs">M</tspan></text>
<text class="lb" y="438"><tspan x="416.39" textLength="10.61" lengthAdjust="spacingAndGlyphs">T</tspan><tspan x="426.94" textLength="15.27" lengthAdjust="spacingAndGlyphs">M</tspan></text>
<text class="lb" y="461"><tspan x="418.38" textLength="10.93" lengthAdjust="spacingAndGlyphs">T</tspan><tspan x="429.37" textLength="11.15" lengthAdjust="spacingAndGlyphs">B</tspan></text>
<text class="lb" y="484"><tspan x="416.68" textLength="16.10" lengthAdjust="spacingAndGlyphs">W</tspan><tspan x="432.09" textLength="10.81" lengthAdjust="spacingAndGlyphs">S</tspan></text>
<text class="lb" y="508"><tspan x="410.68" textLength="12.95" lengthAdjust="spacingAndGlyphs">H</tspan><tspan x="423.88" textLength="13.18" lengthAdjust="spacingAndGlyphs">N</tspan><tspan x="436.75" textLength="11.48" lengthAdjust="spacingAndGlyphs">Z</tspan></text>
<text class="lb" y="531"><tspan x="412.18" textLength="12.98" lengthAdjust="spacingAndGlyphs">H</tspan><tspan x="425.48" textLength="10.59" lengthAdjust="spacingAndGlyphs">F</tspan><tspan x="435.23" textLength="11.50" lengthAdjust="spacingAndGlyphs">Z</tspan></text>
<text class="lb" y="554"><tspan x="417.17" textLength="13.29" lengthAdjust="spacingAndGlyphs">N</tspan><tspan x="430.15" textLength="11.58" lengthAdjust="spacingAndGlyphs">Z</tspan></text>
<text class="lb" y="577"><tspan x="422.30" textLength="13.80" lengthAdjust="spacingAndGlyphs">U</tspan></text>
<text class="lb" y="600"><tspan x="411.68" textLength="13.16" lengthAdjust="spacingAndGlyphs">N</tspan><tspan x="425.08" textLength="10.66" lengthAdjust="spacingAndGlyphs">E</tspan><tspan x="435.76" textLength="11.46" lengthAdjust="spacingAndGlyphs">Z</tspan></text>
<text class="lb" y="624"><tspan x="416.18" textLength="15.57" lengthAdjust="spacingAndGlyphs">W</tspan><tspan x="430.82" textLength="11.50" lengthAdjust="spacingAndGlyphs">A</tspan></text>
<text class="lb" y="647"><tspan x="417.85" textLength="11.21" lengthAdjust="spacingAndGlyphs">S</tspan><tspan x="428.30" textLength="11.97" lengthAdjust="spacingAndGlyphs">Z</tspan></text>
<text class="lb" y="670"><tspan x="405.69" textLength="12.89" lengthAdjust="spacingAndGlyphs">H</tspan><tspan x="418.82" textLength="13.11" lengthAdjust="spacingAndGlyphs">N</tspan><tspan x="432.13" textLength="10.51" lengthAdjust="spacingAndGlyphs">F</tspan><tspan x="441.80" textLength="11.42" lengthAdjust="spacingAndGlyphs">Z</tspan></text>
<text class="lb" y="693"><tspan x="412.38" textLength="10.94" lengthAdjust="spacingAndGlyphs">S</tspan><tspan x="423.15" textLength="10.87" lengthAdjust="spacingAndGlyphs">E</tspan><tspan x="434.05" textLength="11.69" lengthAdjust="spacingAndGlyphs">Z</tspan></text>
<text class="lb" y="717"><tspan x="414.18" textLength="15.33" lengthAdjust="spacingAndGlyphs">W</tspan><tspan x="428.90" textLength="15.33" lengthAdjust="spacingAndGlyphs">W</tspan></text>
<text class="lb" y="740"><tspan x="415.72" textLength="11.11" lengthAdjust="spacingAndGlyphs">B</tspan><tspan x="427.03" textLength="15.68" lengthAdjust="spacingAndGlyphs">M</tspan></text>
<text class="lb" y="763"><tspan x="405.20" textLength="12.83" lengthAdjust="spacingAndGlyphs">H</tspan><tspan x="418.27" textLength="13.05" lengthAdjust="spacingAndGlyphs">N</tspan><tspan x="431.53" textLength="10.47" lengthAdjust="spacingAndGlyphs">F</tspan><tspan x="441.10" textLength="11.71" lengthAdjust="spacingAndGlyphs">A</tspan></text>
<text class="lr" y="438"><tspan x="479.45" textLength="17.53" lengthAdjust="spacingAndGlyphs">W</tspan><tspan x="496.11" textLength="11.46" lengthAdjust="spacingAndGlyphs">Z</tspan></text>
<text class="lr" y="461"><tspan x="473.43" textLength="11.57" lengthAdjust="spacingAndGlyphs">T</tspan><tspan x="484.95" textLength="12.20" lengthAdjust="spacingAndGlyphs">R</tspan><tspan x="496.86" textLength="16.34" lengthAdjust="spacingAndGlyphs">M</tspan></text>
<text class="lb" y="484"><tspan x="474.39" textLength="10.89" lengthAdjust="spacingAndGlyphs">S</tspan><tspan x="484.80" textLength="16.22" lengthAdjust="spacingAndGlyphs">W</tspan><tspan x="500.11" textLength="11.64" lengthAdjust="spacingAndGlyphs">Z</tspan></text>
<text class="lb" y="508"><tspan x="473.68" textLength="13.13" lengthAdjust="spacingAndGlyphs">N</tspan><tspan x="486.75" textLength="15.94" lengthAdjust="spacingAndGlyphs">W</tspan><tspan x="501.79" textLength="11.43" lengthAdjust="spacingAndGlyphs">Z</tspan></text>
<text class="lb" y="531"><tspan x="469.69" textLength="12.89" lengthAdjust="spacingAndGlyphs">H</tspan><tspan x="482.82" textLength="13.11" lengthAdjust="spacingAndGlyphs">N</tspan><tspan x="496.13" textLength="10.51" lengthAdjust="spacingAndGlyphs">F</tspan><tspan x="505.80" textLength="11.42" lengthAdjust="spacingAndGlyphs">Z</tspan></text>
<text class="lb" y="554"><tspan x="476.38" textLength="10.94" lengthAdjust="spacingAndGlyphs">S</tspan><tspan x="487.15" textLength="10.87" lengthAdjust="spacingAndGlyphs">E</tspan><tspan x="498.05" textLength="11.69" lengthAdjust="spacingAndGlyphs">Z</tspan></text>
<text class="lb" y="577"><tspan x="480.39" textLength="10.61" lengthAdjust="spacingAndGlyphs">T</tspan><tspan x="490.94" textLength="15.27" lengthAdjust="spacingAndGlyphs">M</tspan></text>
<text class="lb" y="600"><tspan x="480.18" textLength="15.57" lengthAdjust="spacingAndGlyphs">W</tspan><tspan x="494.82" textLength="11.50" lengthAdjust="spacingAndGlyphs">A</tspan></text>
<text class="lb" y="624"><tspan x="482.38" textLength="10.93" lengthAdjust="spacingAndGlyphs">T</tspan><tspan x="493.37" textLength="11.15" lengthAdjust="spacingAndGlyphs">B</tspan></text>
<text class="lb" y="647"><tspan x="481.85" textLength="11.21" lengthAdjust="spacingAndGlyphs">S</tspan><tspan x="492.30" textLength="11.97" lengthAdjust="spacingAndGlyphs">Z</tspan></text>
<text class="lb" y="670"><tspan x="478.18" textLength="15.33" lengthAdjust="spacingAndGlyphs">W</tspan><tspan x="492.90" textLength="15.33" lengthAdjust="spacingAndGlyphs">W</tspan></text>
<text class="lb" y="693"><tspan x="481.17" textLength="13.29" lengthAdjust="spacingAndGlyphs">N</tspan><tspan x="494.15" textLength="11.58" lengthAdjust="spacingAndGlyphs">Z</tspan></text>
<text class="lb" y="717"><tspan x="474.89" textLength="10.34" lengthAdjust="spacingAndGlyphs">T</tspan><tspan x="485.25" textLength="11.39" lengthAdjust="spacingAndGlyphs">R</tspan><tspan x="495.82" textLength="15.42" lengthAdjust="spacingAndGlyphs">W</tspan></text>
<text class="lb" y="740"><tspan x="479.72" textLength="11.11" lengthAdjust="spacingAndGlyphs">B</tspan><tspan x="491.03" textLength="15.68" lengthAdjust="spacingAndGlyphs">M</tspan></text>
<text class="lb" y="763"><tspan x="474.68" textLength="12.95" lengthAdjust="spacingAndGlyphs">H</tspan><tspan x="487.88" textLength="13.18" lengthAdjust="spacingAndGlyphs">N</tspan><tspan x="500.75" textLength="11.48" lengthAdjust="spacingAndGlyphs">Z</tspan></text>
<text class="lr" y="531"><tspan x="542.95" textLength="17.53" lengthAdjust="spacingAndGlyphs">W</tspan><tspan x="559.61" textLength="11.46" lengthAdjust="spacingAndGlyphs">Z</tspan></text>
<text class="lr" y="554"><tspan x="536.64" textLength="11.12" lengthAdjust="spacingAndGlyphs">S</tspan><tspan x="547.41" textLength="18.20" lengthAdjust="spacingAndGlyphs">W</tspan><tspan x="564.70" textLength="11.90" lengthAdjust="spacingAndGlyphs">Z</tspan></text>
<text class="lb" y="577"><tspan x="537.18" textLength="13.13" lengthAdjust="spacingAndGlyphs">N</tspan><tspan x="550.25" textLength="15.94" lengthAdjust="spacingAndGlyphs">W</tspan><tspan x="565.29" textLength="11.43" lengthAdjust="spacingAndGlyphs">Z</tspan></text>
<text class="lb" y="600"><tspan x="543.89" textLength="10.61" lengthAdjust="spacingAndGlyphs">T</tspan><tspan x="554.44" textLength="15.27" lengthAdjust="spacingAndGlyphs">M</tspan></text>
<text class="lb" y="624"><tspan x="538.39" textLength="10.57" lengthAdjust="spacingAndGlyphs">T</tspan><tspan x="548.97" textLength="11.64" lengthAdjust="spacingAndGlyphs">R</tspan><tspan x="559.99" textLength="15.21" lengthAdjust="spacingAndGlyphs">M</tspan></text>
<text class="lb" y="647"><tspan x="539.39" textLength="10.87" lengthAdjust="spacingAndGlyphs">S</tspan><tspan x="550.09" textLength="10.80" lengthAdjust="spacingAndGlyphs">E</tspan><tspan x="560.86" textLength="11.96" lengthAdjust="spacingAndGlyphs">A</tspan></text>
<text class="lb" y="670"><tspan x="539.88" textLength="10.94" lengthAdjust="spacingAndGlyphs">S</tspan><tspan x="550.65" textLength="10.87" lengthAdjust="spacingAndGlyphs">E</tspan><tspan x="561.55" textLength="11.69" lengthAdjust="spacingAndGlyphs">Z</tspan></text>
<text class="lb" y="693"><tspan x="541.68" textLength="15.33" lengthAdjust="spacingAndGlyphs">W</tspan><tspan x="556.40" textLength="15.33" lengthAdjust="spacingAndGlyphs">W</tspan></text>
<text class="lb" y="717"><tspan x="545.35" textLength="11.21" lengthAdjust="spacingAndGlyphs">S</tspan><tspan x="555.80" textLength="11.97" lengthAdjust="spacingAndGlyphs">Z</tspan></text>
<text class="lb" y="740"><tspan x="538.18" textLength="12.95" lengthAdjust="spacingAndGlyphs">H</tspan><tspan x="551.38" textLength="13.18" lengthAdjust="spacingAndGlyphs">N</tspan><tspan x="564.25" textLength="11.48" lengthAdjust="spacingAndGlyphs">Z</tspan></text>
<text class="lb" y="763"><tspan x="537.40" textLength="10.83" lengthAdjust="spacingAndGlyphs">S</tspan><tspan x="547.75" textLength="16.13" lengthAdjust="spacingAndGlyphs">W</tspan><tspan x="562.91" textLength="11.91" lengthAdjust="spacingAndGlyphs">A</tspan></text>
<text class="lr" y="624"><tspan x="606.95" textLength="17.53" lengthAdjust="spacingAndGlyphs">W</tspan><tspan x="623.61" textLength="11.46" lengthAdjust="spacingAndGlyphs">Z</tspan></text>
<text class="lr" y="647"><tspan x="599.85" textLength="13.30" lengthAdjust="spacingAndGlyphs">N</tspan><tspan x="613.16" textLength="18.04" lengthAdjust="spacingAndGlyphs">W</tspan><tspan x="630.30" textLength="11.80" lengthAdjust="spacingAndGlyphs">Z</tspan></text>
<text class="lb" y="670"><tspan x="607.89" textLength="10.61" lengthAdjust="spacingAndGlyphs">T</tspan><tspan x="618.44" textLength="15.27" lengthAdjust="spacingAndGlyphs">M</tspan></text>
<text class="lb" y="693"><tspan x="607.22" textLength="11.11" lengthAdjust="spacingAndGlyphs">B</tspan><tspan x="618.53" textLength="15.68" lengthAdjust="spacingAndGlyphs">M</tspan></text>
<text class="lb" y="717"><tspan x="601.89" textLength="10.89" lengthAdjust="spacingAndGlyphs">S</tspan><tspan x="612.30" textLength="16.22" lengthAdjust="spacingAndGlyphs">W</tspan><tspan x="627.61" textLength="11.64" lengthAdjust="spacingAndGlyphs">Z</tspan></text>
<text class="lb" y="740"><tspan x="607.68" textLength="15.57" lengthAdjust="spacingAndGlyphs">W</tspan><tspan x="622.32" textLength="11.50" lengthAdjust="spacingAndGlyphs">A</tspan></text>
<text class="lb" y="763"><tspan x="603.19" textLength="12.90" lengthAdjust="spacingAndGlyphs">H</tspan><tspan x="616.41" textLength="10.52" lengthAdjust="spacingAndGlyphs">F</tspan><tspan x="626.04" textLength="11.77" lengthAdjust="spacingAndGlyphs">A</tspan></text>
<text class="lr" y="624"><tspan x="670.45" textLength="17.53" lengthAdjust="spacingAndGlyphs">W</tspan><tspan x="687.11" textLength="11.46" lengthAdjust="spacingAndGlyphs">Z</tspan></text>
<text class="lr" y="647"><tspan x="670.43" textLength="11.56" lengthAdjust="spacingAndGlyphs">T</tspan><tspan x="681.86" textLength="16.34" lengthAdjust="spacingAndGlyphs">M</tspan></text>
<text class="lb" y="670"><tspan x="665.89" textLength="10.57" lengthAdjust="spacingAndGlyphs">T</tspan><tspan x="676.47" textLength="11.64" lengthAdjust="spacingAndGlyphs">R</tspan><tspan x="687.49" textLength="15.21" lengthAdjust="spacingAndGlyphs">M</tspan></text>
<text class="lb" y="693"><tspan x="664.68" textLength="13.13" lengthAdjust="spacingAndGlyphs">N</tspan><tspan x="677.75" textLength="15.94" lengthAdjust="spacingAndGlyphs">W</tspan><tspan x="692.79" textLength="11.43" lengthAdjust="spacingAndGlyphs">Z</tspan></text>
<text class="lb" y="717"><tspan x="673.38" textLength="10.93" lengthAdjust="spacingAndGlyphs">T</tspan><tspan x="684.37" textLength="11.15" lengthAdjust="spacingAndGlyphs">B</tspan></text>
<text class="lb" y="740"><tspan x="665.89" textLength="10.34" lengthAdjust="spacingAndGlyphs">T</tspan><tspan x="676.25" textLength="11.39" lengthAdjust="spacingAndGlyphs">R</tspan><tspan x="686.82" textLength="15.42" lengthAdjust="spacingAndGlyphs">W</tspan></text>
<text class="lb" y="763"><tspan x="670.72" textLength="11.11" lengthAdjust="spacingAndGlyphs">B</tspan><tspan x="682.03" textLength="15.68" lengthAdjust="spacingAndGlyphs">M</tspan></text>
<text class="lr" y="717"><tspan x="734.45" textLength="17.53" lengthAdjust="spacingAndGlyphs">W</tspan><tspan x="751.11" textLength="11.46" lengthAdjust="spacingAndGlyphs">Z</tspan></text>
<text class="lr" y="740"><tspan x="734.43" textLength="11.56" lengthAdjust="spacingAndGlyphs">T</tspan><tspan x="745.86" textLength="16.34" lengthAdjust="spacingAndGlyphs">M</tspan></text>
<text class="lb" y="763"><tspan x="728.68" textLength="13.13" lengthAdjust="spacingAndGlyphs">N</tspan><tspan x="741.75" textLength="15.94" lengthAdjust="spacingAndGlyphs">W</tspan><tspan x="756.79" textLength="11.43" lengthAdjust="spacingAndGlyphs">Z</tspan></text>
<text class="lr" y="763"><tspan x="797.95" textLength="17.53" lengthAdjust="spacingAndGlyphs">W</tspan><tspan x="814.61" textLength="11.46" lengthAdjust="spacingAndGlyphs">Z</tspan></text>
<text class="lr" y="763"><tspan x="855.94" textLength="11.24" lengthAdjust="spacingAndGlyphs">T</tspan><tspan x="867.13" textLength="11.86" lengthAdjust="spacingAndGlyphs">R</tspan><tspan x="877.99" textLength="17.49" lengthAdjust="spacingAndGlyphs">W</tspan></text>
<text class="lr" y="763"><tspan x="989.43" textLength="11.56" lengthAdjust="spacingAndGlyphs">T</tspan><tspan x="1000.86" textLength="16.34" lengthAdjust="spacingAndGlyphs">M</tspan></text>
<text class="lr" y="763"><tspan x="1052.95" textLength="17.53" lengthAdjust="spacingAndGlyphs">W</tspan><tspan x="1069.61" textLength="11.46" lengthAdjust="spacingAndGlyphs">Z</tspan></text>
</g>
<g>
<text class="tk" transform="matrix(1 0 0.003 1 70.86 778)" textLength="13.68" lengthAdjust="spacingAndGlyphs">0</text>
<text class="tk" transform="matrix(1 0 0.003 1 72.52 662)" textLength="11.92" lengthAdjust="spacingAndGlyphs">5</text>
<text class="tk" transform="matrix(1 0 0.003 1 57.53 546)" textLength="27.00" lengthAdjust="spacingAndGlyphs">10</text>
<text class="tk" transform="matrix(1 0 0.003 1 58.62 430)" textLength="25.89" lengthAdjust="spacingAndGlyphs">15</text>
<text class="tk" transform="matrix(1 0 0.003 1 56.67 314)" textLength="27.89" lengthAdjust="spacingAndGlyphs">20</text>
<text class="tk" transform="matrix(1 0 0.003 1 57.72 198)" textLength="26.83" lengthAdjust="spacingAndGlyphs">25</text>
<text class="tk" transform="matrix(1 0 0.003 1 57.61 82)" textLength="26.91" lengthAdjust="spacingAndGlyphs">30</text>
<text class="tk" transform="matrix(1 0 0.003 1 136.38 803)" textLength="13.45" lengthAdjust="spacingAndGlyphs">0</text>
<text class="tk" transform="matrix(1 0 0.003 1 341.25 803)" textLength="26.77" lengthAdjust="spacingAndGlyphs">10</text>
<text class="tk" transform="matrix(1 0 0.003 1 553.38 803)" textLength="27.67" lengthAdjust="spacingAndGlyphs">20</text>
<text class="tk" transform="matrix(1 0 0.003 1 766.32 803)" textLength="26.69" lengthAdjust="spacingAndGlyphs">30</text>
<text class="tk" transform="matrix(1 0 0.003 1 979.07 803)" textLength="26.95" lengthAdjust="spacingAndGlyphs">40</text>
<text class="tk" transform="matrix(1 0 0.003 1 1191.03 803)" textLength="27.00" lengthAdjust="spacingAndGlyphs">50</text>
<text class="tk" transform="matrix(1 0 0.003 1 1403.41 803)" textLength="27.64" lengthAdjust="spacingAndGlyphs">60</text>
</g>
<text class="ax" style="font-size:35.6px"><tspan x="545.35" y="840.9" textLength="23.63" lengthAdjust="spacingAndGlyphs">T</tspan><tspan x="568.74" y="840.9" textLength="20.12" lengthAdjust="spacingAndGlyphs">a</tspan><tspan x="589.08" y="840.9" textLength="21.35" lengthAdjust="spacingAndGlyphs">g</tspan><tspan x="610.49" y="840.9" textLength="19.84" lengthAdjust="spacingAndGlyphs">e</tspan><tspan x="630.56" y="840.9" textLength="17.39" lengthAdjust="spacingAndGlyphs">s</tspan><tspan x="648.12" y="840.9" textLength="22.61" lengthAdjust="spacingAndGlyphs">n</tspan><tspan x="670.98" y="840.9" textLength="11.53" lengthAdjust="spacingAndGlyphs">i</tspan><tspan x="682.43" y="840.9" textLength="19.84" lengthAdjust="spacingAndGlyphs">e</tspan><tspan x="702.20" y="840.9" textLength="21.83" lengthAdjust="spacingAndGlyphs">d</tspan><tspan x="724.08" y="840.9" textLength="19.84" lengthAdjust="spacingAndGlyphs">e</tspan><tspan x="743.99" y="840.9" textLength="17.80" lengthAdjust="spacingAndGlyphs">r</tspan><tspan x="760.59" y="840.9" textLength="17.39" lengthAdjust="spacingAndGlyphs">s</tspan><tspan x="778.00" y="840.9" textLength="18.82" lengthAdjust="spacingAndGlyphs">c</tspan><tspan x="797.11" y="840.9" textLength="22.64" lengthAdjust="spacingAndGlyphs">h</tspan><tspan x="820.10" y="840.9" textLength="11.53" lengthAdjust="spacingAndGlyphs">l</tspan><tspan x="831.68" y="840.9" textLength="20.12" lengthAdjust="spacingAndGlyphs">a</tspan><tspan x="852.07" y="840.9" textLength="21.35" lengthAdjust="spacingAndGlyphs">g</tspan> <tspan x="885.16" y="840.9" textLength="13.21" lengthAdjust="spacingAndGlyphs">(</tspan><tspan x="898.72" y="840.9" textLength="32.96" lengthAdjust="spacingAndGlyphs">m</tspan><tspan x="931.72" y="840.9" textLength="32.96" lengthAdjust="spacingAndGlyphs">m</tspan><tspan x="965.09" y="840.9" textLength="10.63" lengthAdjust="spacingAndGlyphs">/</tspan><tspan x="975.80" y="840.9" textLength="21.83" lengthAdjust="spacingAndGlyphs">d</tspan><tspan x="998.21" y="840.9" textLength="13.23" lengthAdjust="spacingAndGlyphs">)</tspan></text>
<text class="ax" style="font-size:35.6px" transform="translate(39.2,675.6) rotate(-90)"><tspan x="-0.62" y="0.0" textLength="24.73" lengthAdjust="spacingAndGlyphs">B</tspan><tspan x="24.54" y="0.0" textLength="19.75" lengthAdjust="spacingAndGlyphs">e</tspan><tspan x="44.70" y="0.0" textLength="11.48" lengthAdjust="spacingAndGlyphs">i</tspan><tspan x="56.40" y="0.0" textLength="14.34" lengthAdjust="spacingAndGlyphs">t</tspan><tspan x="70.52" y="0.0" textLength="17.72" lengthAdjust="spacingAndGlyphs">r</tspan><tspan x="87.05" y="0.0" textLength="20.04" lengthAdjust="spacingAndGlyphs">a</tspan><tspan x="107.35" y="0.0" textLength="21.25" lengthAdjust="spacingAndGlyphs">g</tspan><tspan x="128.66" y="0.0" textLength="19.75" lengthAdjust="spacingAndGlyphs">e</tspan><tspan x="148.63" y="0.0" textLength="22.51" lengthAdjust="spacingAndGlyphs">n</tspan><tspan x="170.93" y="0.0" textLength="21.74" lengthAdjust="spacingAndGlyphs">d</tspan><tspan x="192.70" y="0.0" textLength="19.75" lengthAdjust="spacingAndGlyphs">e</tspan> <tspan x="223.66" y="0.0" textLength="25.28" lengthAdjust="spacingAndGlyphs">G</tspan><tspan x="250.34" y="0.0" textLength="17.75" lengthAdjust="spacingAndGlyphs">r</tspan><tspan x="266.56" y="0.0" textLength="21.51" lengthAdjust="spacingAndGlyphs">o</tspan><tspan x="287.66" y="0.0" textLength="17.34" lengthAdjust="spacingAndGlyphs">s</tspan><tspan x="305.19" y="0.0" textLength="17.34" lengthAdjust="spacingAndGlyphs">s</tspan><tspan x="322.33" y="0.0" textLength="28.01" lengthAdjust="spacingAndGlyphs">w</tspan><tspan x="349.26" y="0.0" textLength="19.79" lengthAdjust="spacingAndGlyphs">e</tspan><tspan x="369.35" y="0.0" textLength="14.36" lengthAdjust="spacingAndGlyphs">t</tspan><tspan x="383.73" y="0.0" textLength="14.36" lengthAdjust="spacingAndGlyphs">t</tspan><tspan x="397.81" y="0.0" textLength="19.79" lengthAdjust="spacingAndGlyphs">e</tspan><tspan x="417.67" y="0.0" textLength="17.75" lengthAdjust="spacingAndGlyphs">r</tspan><tspan x="434.51" y="0.0" textLength="11.50" lengthAdjust="spacingAndGlyphs">l</tspan><tspan x="446.06" y="0.0" textLength="20.08" lengthAdjust="spacingAndGlyphs">a</tspan><tspan x="466.40" y="0.0" textLength="21.29" lengthAdjust="spacingAndGlyphs">g</tspan><tspan x="487.75" y="0.0" textLength="19.79" lengthAdjust="spacingAndGlyphs">e</tspan><tspan x="507.76" y="0.0" textLength="22.55" lengthAdjust="spacingAndGlyphs">n</tspan></text>
<text class="ax" style="font-size:39.5px"><tspan x="1089.60" y="43.8" textLength="31.92" lengthAdjust="spacingAndGlyphs">H</tspan><tspan x="1122.43" y="43.8" textLength="23.09" lengthAdjust="spacingAndGlyphs">a</tspan><tspan x="1145.65" y="43.8" textLength="37.83" lengthAdjust="spacingAndGlyphs">m</tspan><tspan x="1183.52" y="43.8" textLength="37.83" lengthAdjust="spacingAndGlyphs">m</tspan><tspan x="1221.31" y="43.8" textLength="13.65" lengthAdjust="spacingAndGlyphs">:</tspan> <tspan x="1247.23" y="43.8" textLength="22.90" lengthAdjust="spacingAndGlyphs">1</tspan><tspan x="1271.95" y="43.8" textLength="23.57" lengthAdjust="spacingAndGlyphs">9</tspan><tspan x="1296.30" y="43.8" textLength="24.21" lengthAdjust="spacingAndGlyphs">8</tspan><tspan x="1321.49" y="43.8" textLength="22.90" lengthAdjust="spacingAndGlyphs">1</tspan><tspan x="1345.96" y="43.8" textLength="13.98" lengthAdjust="spacingAndGlyphs">-</tspan><tspan x="1360.77" y="43.8" textLength="23.10" lengthAdjust="spacingAndGlyphs">2</tspan><tspan x="1384.83" y="43.8" textLength="25.26" lengthAdjust="spacingAndGlyphs">0</tspan><tspan x="1410.51" y="43.8" textLength="22.90" lengthAdjust="spacingAndGlyphs">1</tspan><tspan x="1435.23" y="43.8" textLength="23.57" lengthAdjust="spacingAndGlyphs">9</tspan></text>
</svg>
</body></html>
